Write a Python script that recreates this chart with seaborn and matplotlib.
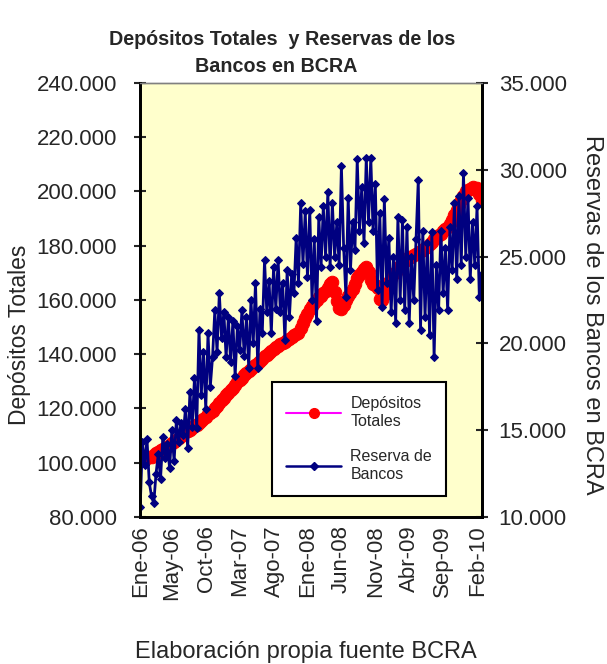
"""
Depósitos Totales y Reservas de los Bancos en BCRA
Dual axis line chart (Ene-06 .. Feb-10)
"""

import pandas as pd
import numpy as np
import matplotlib.pyplot as plt
import matplotlib.ticker as mticker
import seaborn as sns
from matplotlib.lines import Line2D

sns.set_style("white")
plt.rcParams["font.family"] = ["Liberation Sans", "DejaVu Sans"]

# --- data (10-day steps from 2 Jan 2006) ---
START = "2006-01-02"

# Depósitos Totales, thousands of $ millions
DEPOSITOS = [
    100.5, 101.0, 101.5, 101.8, 102.0, 102.3, 102.8, 103.5, 104.0, 104.6,
    105.0, 105.4, 105.8, 106.5, 107.2, 107.8, 108.4, 109.0, 109.8, 110.5,
    111.2, 111.8, 112.1, 112.8, 113.4, 114.0, 114.7, 115.5, 116.2, 117.0,
    117.8, 118.4, 119.2, 120.0, 121.0, 122.0, 123.0, 123.8, 124.8, 125.8,
    126.8, 127.6, 128.5, 129.6, 130.5, 131.4, 132.3, 133.2, 134.0, 134.6,
    135.4, 136.2, 136.8, 137.6, 138.4, 139.2, 139.8, 140.5, 141.2, 141.8,
    142.5, 143.2, 143.8, 144.2, 144.6, 145.2, 145.8, 146.4, 147.0, 147.5,
    148.0, 149.5, 151.5, 153.5, 155.0, 156.5, 157.8, 159.0, 160.0, 161.0,
    161.5, 162.5, 163.5, 164.5, 165.8, 166.6, 163.0, 159.5, 157.0, 156.5,
    158.0, 160.0, 161.5, 162.6, 164.0, 166.0, 168.0, 169.2, 170.5, 171.5,
    172.2, 170.5, 167.5, 166.0, 165.5, 164.5, 160.5, 160.0, 162.0, 164.8,
    166.5, 168.0, 169.5, 170.5, 171.5, 172.5, 173.5, 174.2, 175.0, 175.8,
    176.0, 176.5, 177.0, 177.5, 178.0, 178.6, 179.2, 179.5, 180.5, 181.5,
    182.5, 183.0, 183.8, 184.5, 185.5, 186.2, 186.9, 188.0, 189.5, 191.2,
    193.2, 195.0, 197.0, 198.5, 200.0, 200.5, 201.0, 201.5, 201.0, 201.3,
    199.0, 197.0,
]

# Reserva de Bancos en BCRA, thousands of $ millions
RESERVAS = [
    10.6, 14.3, 13.0, 14.5, 12.0, 11.2, 10.8, 12.5, 13.6, 12.2,
    14.6, 13.4, 14.2, 12.8, 15.0, 13.2, 15.6, 14.3, 15.4, 14.7,
    16.2, 14.0, 17.2, 15.2, 18.0, 15.1, 20.8, 17.0, 19.5, 16.2,
    20.6, 17.5, 19.2, 21.9, 19.5, 22.9, 20.3, 21.8, 19.2, 21.5,
    18.9, 21.3, 18.1, 21.0, 19.6, 21.9, 19.3, 21.5, 18.6, 22.5,
    20.0, 23.5, 18.6, 22.0, 20.6, 24.8, 21.8, 23.6, 20.6, 24.4,
    22.0, 24.8, 21.8, 23.5, 20.2, 24.2, 21.5, 24.0, 22.9, 26.1,
    23.5, 28.1, 24.6, 27.6, 23.8, 27.7, 22.5, 26.0, 21.3, 27.3,
    24.4, 27.9, 25.0, 28.7, 24.4, 28.1, 25.0, 27.0, 24.5, 30.2,
    25.5, 22.7, 28.4, 24.2, 27.0, 25.4, 30.6, 26.5, 29.0, 25.8,
    30.7, 27.0, 30.7, 26.5, 29.2, 23.1, 27.5, 22.1, 28.3, 23.5,
    26.1, 21.8, 25.0, 21.2, 27.3, 22.5, 27.1, 21.9, 26.7, 21.2,
    25.0, 22.5, 26.0, 29.4, 20.8, 26.5, 21.5, 25.8, 20.5, 26.4,
    19.2, 24.5, 21.9, 26.5, 22.9, 25.5, 21.9, 26.7, 24.2, 28.1,
    23.7, 28.5, 24.5, 29.8, 25.0, 28.4, 23.7, 27.0, 24.5, 27.9,
    22.7, 24.0,
]

TICK_DATES = [
    "2006-01-02", "2006-05-22", "2006-10-21", "2007-03-20", "2007-08-17",
    "2008-01-13", "2008-06-11", "2008-11-09", "2009-04-05", "2009-09-01",
    "2010-02-02",
]
TICK_LABELS = [
    "Ene-06", "May-06", "Oct-06", "Mar-07", "Ago-07", "Ene-08",
    "Jun-08", "Nov-08", "Abr-09", "Sep-09", "Feb-10",
]


def miles(x, pos):
    return f"{x:,.0f}".replace(",", ".")


def main():
    df = pd.DataFrame({
        "fecha": pd.date_range(START, periods=len(DEPOSITOS), freq="10D"),
        "depositos": np.array(DEPOSITOS) * 1000,
        "reservas": np.array(RESERVAS) * 1000,
    })

    fig = plt.figure(figsize=(6.07, 6.64), dpi=100)
    ax = fig.add_axes([0.2306, 0.2214, 0.5635, 0.6536])
    ax.set_facecolor("#FFFFCC")

    sns.lineplot(data=df, x="fecha", y="depositos", ax=ax, color="#FF00FF",
                 lw=1, marker="o", markersize=9, markerfacecolor="red",
                 markeredgecolor="red")

    ax2 = ax.twinx()
    sns.lineplot(data=df, x="fecha", y="reservas", ax=ax2, color="#000080",
                 lw=2.0, marker="D", markersize=4.5, markerfacecolor="#000080",
                 markeredgecolor="#000080")

    ax.set_xlim(pd.Timestamp("2006-01-01"), pd.Timestamp("2010-02-22"))
    ax.set_ylim(80000, 240000)
    ax2.set_ylim(10000, 35000)
    ax.yaxis.set_major_locator(mticker.MultipleLocator(20000))
    ax2.yaxis.set_major_locator(mticker.MultipleLocator(5000))
    ax.yaxis.set_major_formatter(mticker.FuncFormatter(miles))
    ax2.yaxis.set_major_formatter(mticker.FuncFormatter(miles))

    ax.set_xticks(pd.to_datetime(TICK_DATES))
    ax.set_xticklabels(TICK_LABELS, rotation=90)

    fs = 16
    ax.tick_params(axis="x", direction="inout", length=8, width=1.5,
                   labelsize=fs, pad=2)
    ax.tick_params(axis="y", direction="inout", length=9, width=1.5,
                   labelsize=fs, pad=12)
    ax2.tick_params(axis="y", direction="inout", length=9, width=1.5,
                    labelsize=fs, pad=7.5)

    ax.set_xlabel("")
    ax.set_ylabel("Depósitos Totales", fontsize=16.5, va="center")
    ax.yaxis.set_label_coords(-0.352, 0.42)
    ax2.set_ylabel("Reservas de los Bancos en BCRA", fontsize=17,
                   rotation=-90, va="center")
    ax2.yaxis.set_label_coords(1.322, 0.465)

    for a in (ax, ax2):
        for side in ("left", "right", "bottom"):
            a.spines[side].set_color("black")
            a.spines[side].set_linewidth(2)
        a.spines["top"].set_color("#808080")
        a.spines["top"].set_linewidth(1)

    fig.text(0.465, 0.932, "Depósitos Totales  y Reservas de los",
             ha="center", va="baseline", fontsize=14.2, fontweight="bold")
    fig.text(0.455, 0.8916, "Bancos en BCRA",
             ha="center", va="baseline", fontsize=14.2, fontweight="bold")
    fig.text(0.504, 0.018, "Elaboración propia fuente BCRA", ha="center",
             va="center", fontsize=17)

    handles = [
        Line2D([], [], color="#FF00FF", lw=1.5, marker="o", markersize=7,
               markerfacecolor="red", markeredgecolor="red"),
        Line2D([], [], color="#000080", lw=1.8, marker="D", markersize=4,
               markerfacecolor="#000080", markeredgecolor="#000080"),
    ]
    leg = ax2.legend(handles, ["Depósitos\nTotales", "Reserva de\nBancos"],
                     loc="lower left", bbox_to_anchor=(0.386, 0.048),
                     borderaxespad=0, fontsize=11.5, frameon=True,
                     fancybox=False, framealpha=1, edgecolor="black",
                     handlelength=3.4, borderpad=0.9, labelspacing=1.3,
                     handletextpad=0.6)
    leg.get_frame().set_linewidth(1.5)

    fig.savefig("out.png", dpi=100)


if __name__ == "__main__":
    main()
